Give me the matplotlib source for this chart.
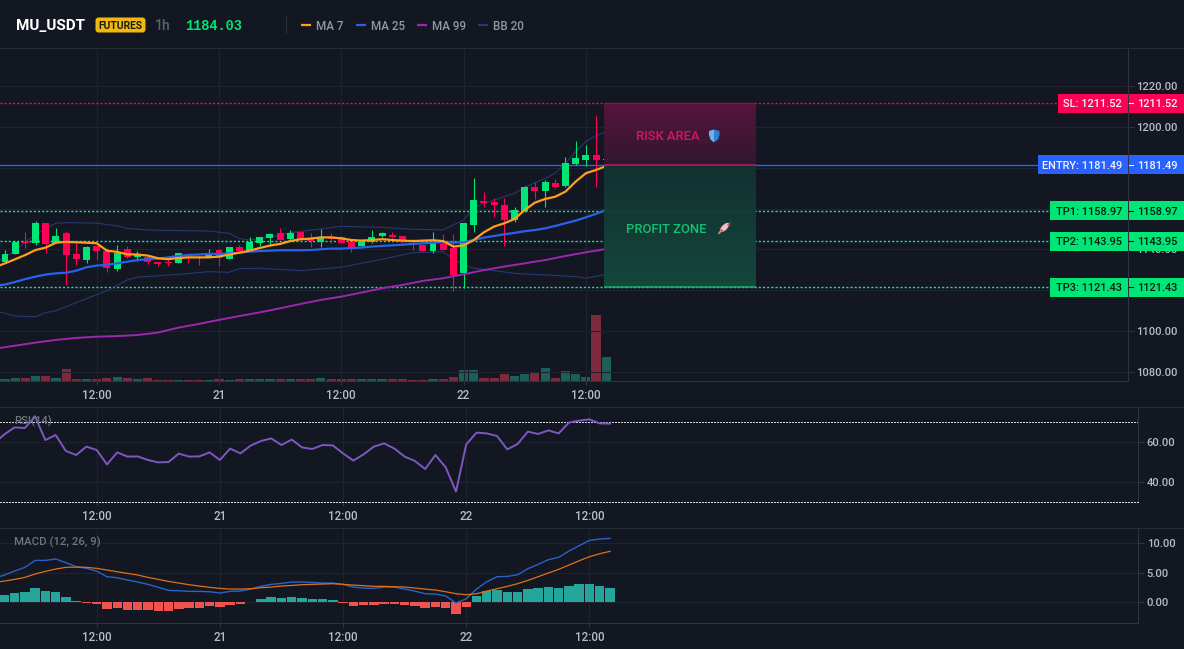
#!/usr/bin/env python3
"""MU_USDT 1h futures chart: candles, MAs, Bollinger bands, RSI and MACD panes."""

import numpy as np
import matplotlib
matplotlib.use('Agg')
import matplotlib.pyplot as plt
from matplotlib.patches import Rectangle, FancyBboxPatch, Polygon, Ellipse

# ----------------------------------------------------------------------------
# DATA (bar 0 is 12:00 on the 20th, one bar per hour)
# ----------------------------------------------------------------------------
first_candle = -9
opens = [1133.9, 1137.8, 1143.8, 1143.0, 1153.1, 1143.3, 1148.2, 1137.8, 1134.8, 1141.9,
         1139.4, 1130.4, 1140.2, 1136.1, 1136.1, 1133.7, 1134.0, 1133.5, 1136.5, 1136.1,
         1136.1, 1139.7, 1135.5, 1141.4, 1139.7, 1143.2, 1145.6, 1147.9, 1145.0, 1148.4,
         1145.4, 1143.7, 1145.8, 1146.3, 1143.5, 1141.7, 1143.5, 1146.6, 1147.1, 1146.4,
         1143.8, 1142.2, 1139.4, 1142.7, 1140.5, 1128.3, 1152.0, 1163.6, 1163.2, 1161.6,
         1154.4, 1158.8, 1170.4, 1168.8, 1172.5, 1171.1, 1181.8, 1184.0, 1186.1, 1184.0]
closes = [1137.8, 1143.8, 1143.3, 1153.0, 1142.8, 1146.6, 1137.5, 1135.3, 1141.4, 1139.2,
          1131.1, 1138.4, 1136.1, 1137.3, 1134.0, 1132.7, 1133.5, 1138.1, 1135.8, 1135.8,
          1138.4, 1135.7, 1141.0, 1139.4, 1143.8, 1145.9, 1147.6, 1144.6, 1148.1, 1145.3,
          1144.3, 1145.9, 1145.3, 1143.3, 1140.9, 1143.8, 1146.3, 1148.1, 1146.1, 1143.8,
          1143.5, 1139.4, 1143.0, 1139.7, 1127.5, 1152.8, 1164.2, 1162.7, 1161.8, 1154.4,
          1159.2, 1170.7, 1168.8, 1172.9, 1170.6, 1182.2, 1184.8, 1186.1, 1184.0, 1184.03]
highs = [1139.7, 1144.1, 1148.7, 1153.9, 1153.1, 1150.3, 1149.2, 1143.0, 1141.9, 1141.9,
         1140.6, 1142.2, 1141.7, 1139.4, 1137.3, 1134.0, 1135.7, 1138.4, 1137.3, 1137.3,
         1140.1, 1140.2, 1141.4, 1142.2, 1146.3, 1146.3, 1147.9, 1150.5, 1149.5, 1148.7,
         1148.2, 1150.0, 1148.2, 1146.6, 1143.8, 1145.0, 1149.5, 1148.7, 1148.4, 1146.8,
         1145.0, 1142.2, 1148.4, 1147.6, 1147.4, 1152.8, 1174.8, 1168.0, 1165.0, 1165.0,
         1160.9, 1171.2, 1173.2, 1174.0, 1174.3, 1185.4, 1193.1, 1191.1, 1205.8, 1184.4]
lows = [1133.2, 1137.8, 1140.6, 1142.2, 1138.4, 1143.0, 1122.6, 1132.4, 1133.5, 1134.8,
        1129.1, 1129.5, 1135.7, 1134.4, 1132.9, 1131.9, 1131.9, 1133.5, 1133.2, 1132.4,
        1136.1, 1131.9, 1135.2, 1139.2, 1139.4, 1141.7, 1142.2, 1144.6, 1144.6, 1144.6,
        1141.4, 1141.4, 1143.0, 1143.0, 1138.9, 1141.4, 1143.0, 1145.9, 1145.4, 1143.3,
        1139.7, 1139.4, 1138.4, 1139.7, 1119.8, 1121.0, 1148.7, 1160.9, 1156.0, 1141.9,
        1153.6, 1158.5, 1164.7, 1160.9, 1170.2, 1170.7, 1181.3, 1181.0, 1170.7, 1183.6]
volumes = [6, 8, 8, 15, 15, 9, 36, 6, 6, 6,
           8, 11, 8, 6, 9, 2, 2, 2, 2, 2,
           2, 6, 2, 6, 6, 6, 6, 6, 6, 6,
           5, 9, 5, 5, 5, 6, 6, 6, 5, 5,
           2, 2, 6, 5, 13, 32, 33, 9, 9, 20,
           16, 21, 25, 39, 9, 30, 22, 13, 198, 72]

first_line = -10
ma7 = [1131.3, 1133.2, 1135.2, 1137.3, 1139.7, 1140.9, 1143.3, 1143.7, 1143.5, 1143.3,
       1143.0, 1139.4, 1138.8, 1137.6, 1137.5, 1137.0, 1135.7, 1135.2, 1135.8, 1136.1,
       1136.1, 1136.1, 1136.5, 1137.5, 1138.4, 1139.4, 1140.7, 1141.9, 1142.7, 1144.1,
       1145.0, 1145.3, 1145.9, 1145.9, 1145.4, 1144.6, 1144.3, 1144.6, 1145.0, 1144.6,
       1144.3, 1144.1, 1144.3, 1144.5, 1144.1, 1141.4, 1141.9, 1144.6, 1148.4, 1151.2,
       1152.8, 1154.9, 1159.3, 1162.9, 1164.7, 1165.8, 1168.3, 1173.2, 1177.3, 1178.9,
       1180.8]
ma25 = [1122.4, 1122.8, 1124.1, 1125.5, 1126.7, 1127.7, 1128.3, 1128.6, 1129.6, 1131.3,
        1132.1, 1132.4, 1133.2, 1134.0, 1134.8, 1135.2, 1135.5, 1136.1, 1136.8, 1137.3,
        1137.5, 1137.8, 1137.8, 1138.1, 1138.4, 1138.9, 1139.2, 1139.4, 1139.6, 1139.6,
        1139.6, 1139.7, 1140.1, 1140.4, 1140.4, 1140.7, 1140.9, 1141.4, 1141.7, 1142.0,
        1142.3, 1142.7, 1143.0, 1143.3, 1143.5, 1143.3, 1143.5, 1144.6, 1145.8, 1146.6,
        1147.4, 1148.1, 1148.9, 1149.5, 1150.3, 1151.5, 1152.8, 1154.1, 1155.7, 1157.4,
        1159.3]

ma99_bars = [-10, -8, -6, -4, -2, 0, 2, 4, 6, 8, 10, 12, 14, 16, 18, 20,
             22, 24, 26, 28, 30, 32, 34, 36, 38, 40, 42, 44, 46, 48, 50]
ma99 = [1091.4, 1092.9, 1094.4, 1095.7, 1096.7, 1097.3, 1097.6, 1098.1, 1099.3, 1101.7,
        1103.5, 1105.5, 1107.4, 1109.2, 1111.2, 1113.3, 1115.3, 1116.9, 1118.9, 1121.0,
        1122.6, 1124.6, 1125.9, 1127.8, 1129.9, 1131.6, 1133.2, 1134.8, 1136.8, 1138.6,
        1140.2]

bb_up_bars = [-10, -8, -7, -5, -4, -3, 0, 2, 3, 5, 8, 11, 13, 14, 15, 17, 19,
              24, 28, 31, 34, 35, 36, 37, 38, 40, 41, 42, 44, 45, 46, 47, 48, 49, 50]
bb_up = [1133.2, 1139.4, 1143.8, 1150.3, 1152.8, 1153.1, 1152.9, 1151.5, 1150.3, 1149.5,
         1149.2, 1149.0, 1147.9, 1145.3, 1144.6, 1145.9, 1148.2, 1151.3, 1150.8, 1149.9,
         1149.5, 1152.0, 1154.4, 1160.1, 1162.6, 1165.8, 1167.5, 1170.4, 1174.8, 1177.3,
         1182.2, 1187.9, 1192.8, 1195.7, 1197.7]
bb_low_bars = [-10, -9, -8, -6, -5, -4, -2, 1, 3, 4, 8, 11, 13, 14, 16, 20,
               24, 28, 31, 34, 35, 36, 37, 39, 41, 44, 47, 48, 50]
bb_low = [1110.0, 1108.7, 1107.4, 1107.1, 1109.1, 1110.0, 1114.0, 1119.8, 1125.1, 1126.4,
          1127.8, 1129.1, 1128.8, 1130.6, 1130.8, 1129.6, 1131.3, 1135.2, 1138.4, 1138.9,
          1135.2, 1132.4, 1130.8, 1129.6, 1128.3, 1127.5, 1126.7, 1125.9, 1127.8]

rsi = [59.3, 63.8, 67.3, 67.0, 72.7, 61.0, 63.5, 55.5, 53.5, 57.7,
       56.0, 48.8, 54.8, 52.7, 52.8, 51.0, 49.8, 50.0, 54.2, 52.7,
       52.8, 54.8, 51.0, 56.7, 54.3, 58.2, 60.5, 61.8, 58.5, 61.2,
       57.3, 56.5, 58.5, 58.3, 54.3, 50.7, 53.8, 57.7, 59.3, 56.7,
       52.7, 50.5, 46.5, 53.5, 47.3, 35.2, 58.8, 64.7, 64.3, 63.0,
       56.3, 59.0, 65.2, 64.0, 65.8, 64.3, 69.7, 70.7, 71.3, 69.3,
       69.2]

macd_line = [4.00, 4.58, 5.25, 5.88, 7.06, 7.06, 7.29, 6.67, 5.99, 5.71,
             5.25, 4.29, 4.12, 3.73, 3.39, 3.00, 2.49, 1.98, 1.92, 1.81,
             1.81, 1.75, 1.53, 1.81, 1.86, 2.20, 2.66, 3.00, 3.16, 3.39,
             3.39, 3.33, 3.22, 3.22, 3.00, 2.54, 2.37, 2.32, 2.54, 2.54,
             2.20, 1.86, 1.41, 1.36, 1.02, -0.17, 0.56, 2.20, 3.45, 4.29,
             4.35, 4.63, 5.65, 6.38, 7.18, 7.57, 8.64, 9.55, 10.45, 10.68,
             10.79]
signal_line = [3.30, 3.56, 3.84, 4.18, 4.75, 5.20, 5.59, 5.88, 5.93, 5.88,
               5.71, 5.42, 5.14, 4.86, 4.58, 4.18, 3.84, 3.50, 3.22, 2.94,
               2.71, 2.49, 2.32, 2.20, 2.20, 2.26, 2.43, 2.54, 2.71, 2.82,
               2.94, 3.00, 3.05, 3.11, 3.00, 2.88, 2.77, 2.66, 2.66, 2.60,
               2.54, 2.37, 2.20, 2.03, 1.75, 1.41, 1.24, 1.41, 1.86, 2.26,
               2.66, 3.11, 3.67, 4.29, 4.92, 5.54, 6.27, 7.00, 7.68, 8.19,
               8.59]
macd_hist = [1.13, 1.47, 1.64, 2.32, 1.81, 1.64, 0.79, 0.11, -0.23, -0.34,
             -1.24, -1.07, -1.30, -1.30, -1.41, -1.58, -1.58, -1.24, -1.07, -1.07,
             -0.73, -0.90, -0.56, -0.40, 0.06, 0.45, 0.79, 0.62, 0.79, 0.62,
             0.45, 0.45, 0.28, -0.17, -0.62, -0.56, -0.45, -0.28, -0.28, -0.51,
             -0.68, -0.96, -0.79, -0.96, -1.98, -0.79, 1.02, 1.81, 1.98, 1.64,
             1.64, 2.15, 2.32, 2.49, 2.32, 2.66, 2.99, 2.99, 2.66, 2.32]

time_ticks = [0, 12, 24, 36, 48]
time_labels = ['12:00', '21', '12:00', '22', '12:00']
price_ticks = [1080, 1100, 1120, 1140, 1160, 1180, 1200, 1220]
# 1120, 1160 and 1180 sit under the level tags, so only their grid lines show
price_labels = ['1080.00', '1100.00', '', '1140.00', '', '', '1200.00', '1220.00']
rsi_ticks = [40, 60]
macd_ticks = [0, 5, 10]

sl_level = 1211.52
entry_level = 1181.49
tp_levels = [('TP1', 1158.97), ('TP2', 1143.95), ('TP3', 1121.43)]
last_price = 1184.03

# ----------------------------------------------------------------------------
# STYLE
# ----------------------------------------------------------------------------
W, H = 1184, 649
BG = '#131722'
GRID = '#1f2330'
EDGE = '#2f3340'
TICK_TXT = '#b8bcc4'
GREEN = '#00e676'
RED = '#ff0055'
BLUE = '#2962ff'
ORANGE = '#ff9f1c'
MA25_BLUE = '#2962e8'
PURPLE = '#9c27b0'
BB_BLUE = '#27386f'
UI_FONT = ['Roboto', 'DejaVu Sans']
DOTS = (0, (2, 2))
LEVEL_DOTS = (0, (1.5, 1.5))

plt.rcParams['font.family'] = UI_FONT
plt.rcParams['font.weight'] = 'medium'


def pane(top, bottom, right, xlim, ylim):
    """Axes placed by pixel box, price scale on the right."""
    ax = fig.add_axes([0, 1 - bottom / H, right / W, (bottom - top) / H])
    ax.set_facecolor(BG)
    ax.set_xlim(*xlim)
    ax.set_ylim(*ylim)
    ax.yaxis.tick_right()
    for name in ('left', 'top'):
        ax.spines[name].set_visible(False)
    for name in ('right', 'bottom'):
        ax.spines[name].set_color(EDGE)
        ax.spines[name].set_linewidth(0.8)
    ax.grid(True, color=GRID, linewidth=0.8)
    ax.set_axisbelow(True)
    ax.set_xticks(time_ticks, time_labels)
    ax.tick_params(axis='x', colors=EDGE, labelcolor=TICK_TXT, labelsize=8.4, length=3, pad=2.5,
                   width=0.8)
    ax.tick_params(axis='y', colors=EDGE, labelcolor=TICK_TXT, labelsize=8.0, length=4.5, pad=1.5,
                   width=0.8)
    return ax


fig = plt.figure(figsize=(W / 100, H / 100), dpi=100, facecolor=BG)

# ----------------------------------------------------------------------------
# PRICE PANE
# ----------------------------------------------------------------------------
ax = pane(49, 381, 1128, (-9.49, 101.2), (1075.6, 1238.1))
ax.set_yticks(price_ticks, price_labels)

bars = np.arange(first_candle, first_candle + len(opens))
line_bars = np.arange(first_line, first_line + len(ma7))
opens_a, closes_a = np.array(opens), np.array(closes)
colors = [GREEN if c >= o else RED for o, c in zip(opens_a, closes_a)]

# volume sits in its own overlay at the foot of the pane
ax_vol = fig.add_axes(ax.get_position(), sharex=ax, frameon=False)
ax_vol.set_ylim(0, 996)
ax_vol.patch.set_alpha(0)
ax_vol.tick_params(left=False, right=False, bottom=False, labelleft=False, labelright=False,
                   labelbottom=False)
vol_colors = ['#1c5f57' if c == GREEN else '#7d2b3c' for c in colors]
ax_vol.bar(bars, volumes, width=0.9, color=vol_colors, linewidth=0)
ax.set_zorder(ax_vol.get_zorder() + 1)
ax.patch.set_alpha(0)

# trade levels
ax.axhline(sl_level, color=RED, lw=1.0, ls=LEVEL_DOTS, zorder=2)
ax.axhline(entry_level, color=BLUE, lw=1.0, zorder=2)
for _, lvl in tp_levels:
    ax.axhline(lvl, color='#1fe0a8', lw=1.0, ls=LEVEL_DOTS, zorder=2)

# bollinger bands, then candles, then averages
ax.plot(bb_up_bars, bb_up, color=BB_BLUE, lw=0.8, zorder=3)
ax.plot(bb_low_bars, bb_low, color=BB_BLUE, lw=0.8, zorder=3)
ax.vlines(bars, lows, highs, colors=colors, lw=0.8, zorder=4)
ax.bar(bars, np.abs(closes_a - opens_a), bottom=np.minimum(opens_a, closes_a), width=0.68,
       color=colors, linewidth=0, zorder=4)
ax.plot(ma99_bars, ma99, color=PURPLE, lw=1.4, zorder=5)
ax.plot(line_bars, ma25, color=MA25_BLUE, lw=1.6, zorder=5)
ax.plot(line_bars, ma7, color=ORANGE, lw=1.6, zorder=6)

# risk and profit boxes
zone_x0, zone_x1 = 49.8, 64.7
def zone(y0, y1, col_low, col_high, alpha):
    """Vertical colour ramp from y0 (col_low) to y1 (col_high)."""
    ramp = np.linspace(0, 1, 64)[:, None, None]
    lo = np.array(col_low) / 255
    hi = np.array(col_high) / 255
    rgb = lo + (hi - lo) * ramp
    rgba = np.dstack([rgb, np.full(rgb.shape[:2], alpha)])
    ax.imshow(rgba, origin='lower', aspect='auto', extent=(zone_x0, zone_x1, y0, y1),
              zorder=7, interpolation='bilinear')

zone(entry_level, sl_level, (50, 24, 50), (92, 20, 62), 0.95)
zone(tp_levels[2][1], entry_level, (22, 74, 62), (18, 50, 50), 0.95)
ax.hlines(entry_level, zone_x0, zone_x1, color='#c2185b', lw=1.1, zorder=8)
ax.hlines(tp_levels[2][1], zone_x0, zone_x1, color='#1fae6e', lw=1.1, zorder=8)
ax.hlines(sl_level, zone_x0, zone_x1, color='#7a1f4d', lw=0.8, zorder=8)
ax.set_xlim(-9.49, 101.2)
ax.set_ylim(1075.6, 1238.1)

# ----------------------------------------------------------------------------
# RSI PANE
# ----------------------------------------------------------------------------
ax_rsi = pane(407, 502, 1138.3, (-9.42, 101.47), (30, 77.5))
ax_rsi.set_yticks(rsi_ticks, [f'{v:.2f}' for v in rsi_ticks])
ax_rsi.axhline(70, color='#d4d7dd', lw=0.72, ls=DOTS, antialiased=False)
ax_rsi.axhline(30, color='#d4d7dd', lw=0.72, ls=DOTS, antialiased=False, clip_on=False, zorder=5)
ax_rsi.plot(line_bars, rsi, color='#7e57c2', lw=1.4)
ax_rsi.text(14 / 1138.3, 1 - 14 / 95, 'RSI(14)', transform=ax_rsi.transAxes, color='#6f7480',
            fontsize=8.2, va='center')

# ----------------------------------------------------------------------------
# MACD PANE
# ----------------------------------------------------------------------------
ax_macd = pane(528.3, 623.3, 1138.3, (-9.42, 101.47), (-3.6, 12.5))
ax_macd.set_yticks(macd_ticks, [f'{v:.2f}' for v in macd_ticks])
hist_colors = ['#26a69a' if v >= 0 else '#ef5350' for v in macd_hist]
ax_macd.bar(bars, macd_hist, width=0.92, color=hist_colors, linewidth=0)
ax_macd.plot(line_bars, macd_line, color='#2962c8', lw=1.0)
ax_macd.plot(line_bars, signal_line, color='#e0701a', lw=0.9)
ax_macd.text(14 / 1138.3, 1 - 14 / 95, 'MACD (12, 26, 9)', transform=ax_macd.transAxes,
             color='#6f7480', fontsize=8.2, va='center')

# ----------------------------------------------------------------------------
# OVERLAY: header, price tags, box captions (pixel coordinates)
# ----------------------------------------------------------------------------
ov = fig.add_axes([0, 0, 1, 1], frameon=False)
ov.set_zorder(20)
ov.set_xlim(0, W)
ov.set_ylim(H, 0)
ov.set_xticks([])
ov.set_yticks([])
ov.patch.set_alpha(0)


def level_y(price):
    return H - ax.transData.transform((0, price))[1]


def price_tag(name, price, left, fill, ink):
    y = level_y(price)
    ov.add_patch(Rectangle((left, y - 9.5), 1127.5 - left, 19, color=fill, lw=0))
    ov.add_patch(Rectangle((1129, y - 9.5), W - 1129, 19, color=fill, lw=0))
    ov.plot([1129, 1133], [y, y], color=ink, lw=0.8)
    ov.text(1122, y, f'{name}: {price:.2f}', color=ink, fontsize=7.9, ha='right',
            va='center_baseline')
    ov.text(1137, y, f'{price:.2f}', color=ink, fontsize=7.9, ha='left', va='center_baseline')


price_tag('SL', sl_level, 1058, RED, '#f3f4f6')
price_tag('ENTRY', entry_level, 1038, BLUE, '#f3f4f6')
for name, lvl in tp_levels:
    price_tag(name, lvl, 1050, GREEN, '#0b1a14')

# header strip and pane separators
for sep_y in (48, 407, 528.3):
    ov.plot([0, W], [sep_y, sep_y], color='#262a35', lw=0.8)
ov.text(16, 25, 'MU_USDT', color='#ffffff', fontsize=11, fontweight='bold', va='center_baseline')
ov.add_patch(FancyBboxPatch((96, 18), 49, 14, boxstyle='round,pad=0.5,rounding_size=3',
                            fc='#f0b90b', ec='none'))
ov.text(120.5, 25.2, 'FUTURES', color='#1a1a1a', fontsize=7.4, fontweight='bold', ha='center',
        va='center_baseline')
ov.text(155, 25, '1h', color='#5d626d', fontsize=10, va='center_baseline')
ov.text(185, 25, f'{last_price:.2f}', color=GREEN, fontsize=9.8, fontweight='bold',
        family=['Liberation Mono', 'DejaVu Sans Mono'], va='center_baseline')
ov.plot([286, 286], [16, 33], color='#2a2e39', lw=0.8)

legend_items = [('MA 7', ORANGE, 301), ('MA 25', MA25_BLUE, 356), ('MA 99', PURPLE, 417),
                ('BB 20', BB_BLUE, 478)]
for label, col, x in legend_items:
    ov.plot([x, x + 10], [24.5, 24.5], color=col, lw=1.6, solid_capstyle='butt')
    ov.text(x + 15, 25, label, color='#9298a3', fontsize=8.4, va='center_baseline')

# captions inside the boxes
ov.text(636, 135, 'RISK AREA', color='#e0105f', fontsize=9.4, fontweight='medium',
        va='center_baseline')
ov.text(626, 228, 'PROFIT ZONE', color='#12c172', fontsize=9.4, fontweight='medium',
        va='center_baseline')

# shield glyph
ov.add_patch(Polygon([(709, 131), (714, 129.5), (714, 142.5), (710.5, 139.5), (709, 135)],
                     fc='#6bb3ee', ec='none'))
ov.add_patch(Polygon([(714, 129.5), (719.5, 131), (719.5, 135), (718, 139.5), (714, 142.5)],
                     fc='#2f80d2', ec='none'))

# rocket glyph
ov.add_patch(Ellipse((724.5, 227.5), 12, 5.4, angle=-45, fc='#f0bccb', ec='none'))
ov.add_patch(Polygon([(727, 225), (730.5, 221.5), (729.5, 226.5)], fc='#e0405f', ec='none'))
ov.add_patch(Polygon([(719.5, 228.5), (721.5, 232.5), (723.5, 230.5)], fc='#d9486a', ec='none'))
ov.add_patch(Polygon([(719.5, 231), (717.5, 234.5), (721, 233)], fc='#e8a13c', ec='none'))

fig.savefig('out.png', dpi=100, facecolor=BG)
